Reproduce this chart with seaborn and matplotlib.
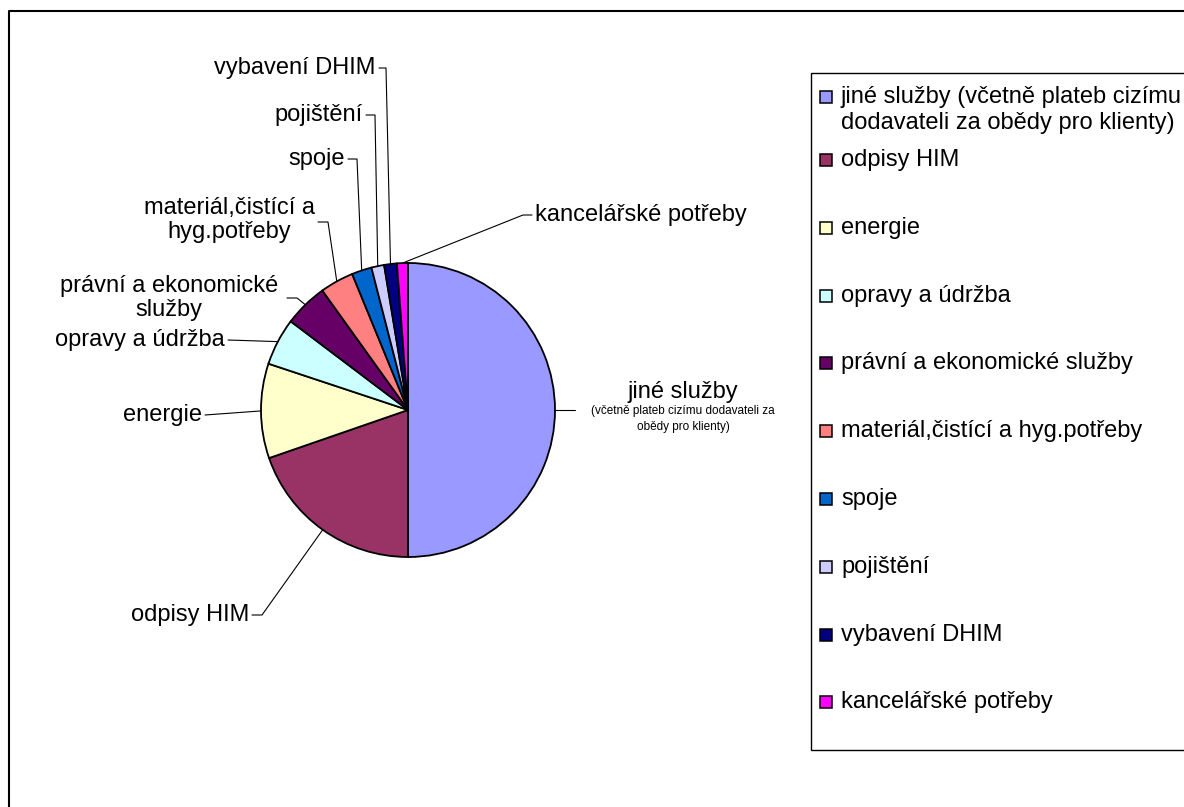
import numpy as np
import matplotlib.pyplot as plt
import matplotlib.patches as mpatches
import seaborn as sns

# data
categories = ["jiné služby", "odpisy HIM", "energie", "opravy a údržba",
              "právní a ekonomické služby", "materiál,čistící a hyg.potřeby",
              "spoje", "pojištění", "vybavení DHIM", "kancelářské potřeby"]
values = [50.0, 19.7, 10.4, 5.2, 4.8, 3.7, 2.2, 1.4, 1.4, 1.2]
slice_colors = ["#9999FF", "#993366", "#FFFFCC", "#CCFFFF", "#660066",
                "#FF8080", "#0066CC", "#CCCCFF", "#000080", "#FF00FF"]
pie_labels = ["jiné služby", "odpisy HIM", "energie", "opravy a údržba",
              "právní a ekonomické\nslužby", "materiál,čistící a\nhyg.potřeby",
              "spoje", "pojištění", "vybavení DHIM", "kancelářské potřeby"]
legend_labels = ["jiné služby (včetně plateb cizímu\ndodavateli za obědy pro klienty)"] + categories[1:]
note = "(včetně plateb cizímu dodavateli za\nobědy pro klienty)"

sns.set_style("white")
plt.rcParams["font.family"] = ["Liberation Sans", "DejaVu Sans"]
plt.rcParams["text.color"] = "black"

W, H = 1184, 807
fig = plt.figure(figsize=(W / 100, H / 100), dpi=100)
ax = fig.add_axes([0, 0, 1, 1])

# pie in pixel coordinates (y axis inverted)
cx, cy, r = 408, 410, 147
palette = sns.color_palette(slice_colors)
wedges, _ = ax.pie(values, colors=palette, startangle=-90, counterclock=True,
                   center=(cx, cy), radius=r, frame=True,
                   wedgeprops=dict(edgecolor="black", linewidth=1.3))
ax.set_xlim(0, W)
ax.set_ylim(H, 0)
ax.set_aspect("equal")
ax.axis("off")

# label position, alignment, leader path (after the point on the slice edge)
layout = [
    (683, 392, "center", [(575, 410)]),
    (249, 615, "right", [(262, 615), (252, 615)]),
    (202, 415, "right", [(205, 415)]),
    (225, 340, "right", [(228, 340)]),
    (169, 298, "center", [(297, 298), (287, 298)]),
    (229, 220, "center", [(328, 222), (318, 222)]),
    (345, 159, "right", [(357, 159), (348, 159)]),
    (363, 115, "right", [(375, 115), (366, 115)]),
    (376, 68, "right", [(386, 68), (379, 68)]),
    (535, 215, "left", [(523, 215), (532, 215)]),
]
fs = 17
for w, lab, (tx, ty, ha, path) in zip(wedges, pie_labels, layout):
    th = np.deg2rad((w.theta1 + w.theta2) / 2)
    pts = [(cx + r * np.cos(th), cy + r * np.sin(th))] + path
    xs, ys = zip(*pts)
    ax.plot(xs, ys, color="black", lw=0.8)
    ax.text(tx, ty, lab, ha=ha, va="center", fontsize=fs, color="black",
            multialignment="center", linespacing=1.12)

ax.text(683, 419, note, ha="center", va="center", fontsize=8.5, color="black",
        multialignment="center", linespacing=1.4)

# legend drawn by hand
legend_y = [97] + [160 + i * 67.8 for i in range(len(categories) - 1)]
ax.add_patch(mpatches.Rectangle((811, 73), 420, 677, fill=False,
                                edgecolor="black", lw=1.0, clip_on=False))
for col, lab, y in zip(palette, legend_labels, legend_y):
    ax.add_patch(mpatches.Rectangle((820, y - 6), 12, 12, facecolor=col,
                                    edgecolor="black", lw=1.1, clip_on=False))
    for k, line in enumerate(lab.split("\n")):
        ax.text(841, y + k * 26, line, ha="left", va="center", fontsize=fs,
                color="black", clip_on=False)

# outer chart border
ax.plot([9, 9, W + 10], [H + 10, 11, 11], color="black", lw=1.5, clip_on=False)

plt.savefig("out.png", dpi=100)
